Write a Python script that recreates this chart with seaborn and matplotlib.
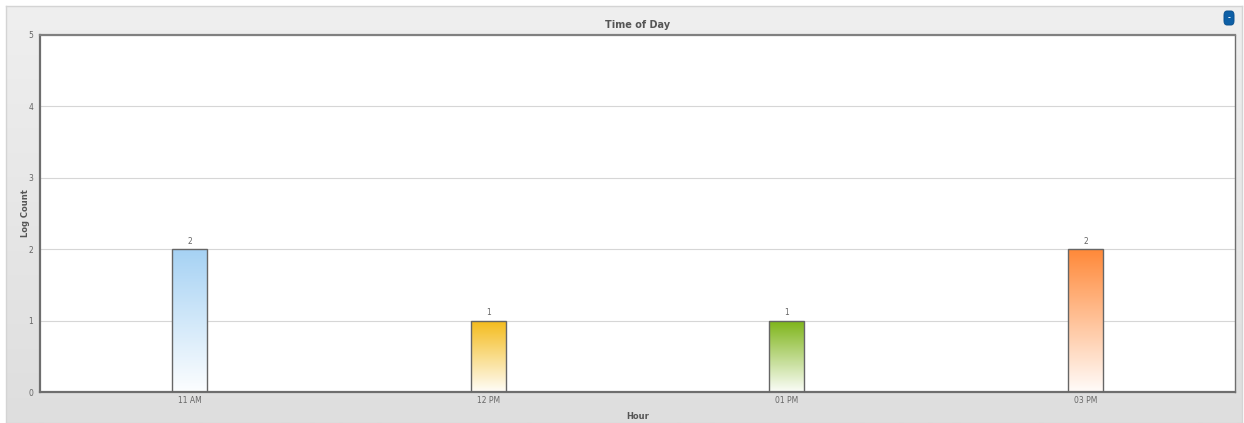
import numpy as np
import pandas as pd
import matplotlib
matplotlib.use("Agg")
import matplotlib.pyplot as plt
from matplotlib.colors import LinearSegmentedColormap
from matplotlib.patches import FancyBboxPatch
import seaborn as sns

hours = ["11 AM", "12 PM", "01 PM", "03 PM"]
log_counts = [2, 1, 1, 2]
top_colors = ["#a6d2f4", "#f4bb1a", "#7db417", "#ff8939"]

sns.set_theme(style="white")
plt.rcParams["font.family"] = ["DejaVu Sans"]

fig = plt.figure(figsize=(12.44, 4.23), dpi=100)
fig.patch.set_facecolor("white")

# panel background with a soft vertical gradient
bg = fig.add_axes([6 / 1244, 0, 1236 / 1244, 417 / 423], zorder=0)
grad = np.linspace(0, 1, 256).reshape(-1, 1)
bg_cmap = LinearSegmentedColormap.from_list("bg", ["#efefef", "#dedede"])
bg.imshow(grad, aspect="auto", cmap=bg_cmap, extent=[0, 1, 0, 1], origin="upper")
bg.set_xlim(0, 1)
bg.set_ylim(0, 1)
bg.set_xticks([])
bg.set_yticks([])
for s in bg.spines.values():
    s.set_color("#d4d4d4")
    s.set_linewidth(1)

ax = fig.add_axes([40 / 1244, 1 - 392 / 423, 1195 / 1244, 357 / 423], zorder=1)
ax.set_facecolor("white")

df = pd.DataFrame({"Hour": hours, "Log Count": log_counts})
sns.barplot(data=df, x="Hour", y="Log Count", ax=ax, width=0.117,
            color="white", edgecolor="#666666", linewidth=1.0, zorder=3)

# vertical gradient fill inside each bar
for patch, col, val in zip(ax.patches, top_colors, log_counts):
    x0, y0 = patch.get_x(), patch.get_y()
    w, h = patch.get_width(), patch.get_height()
    cmap = LinearSegmentedColormap.from_list("g", [col, "#ffffff"])
    im = ax.imshow(np.linspace(0, 0.97, 256).reshape(-1, 1), aspect="auto", cmap=cmap,
                   vmin=0, vmax=1, extent=[x0, x0 + w, y0, y0 + h],
                   origin="upper", zorder=2.5)
    im.set_clip_path(patch)
    patch.set_facecolor("none")
    ax.text(x0 + w / 2, val + 0.045, str(val), ha="center", va="bottom",
            fontsize=5.5, color="#666666")

ax.set_xlim(-0.5, len(hours) - 0.5)
ax.set_ylim(0, 5)
ax.set_yticks(range(0, 6))
ax.yaxis.grid(True, color="#d6d6d6", linewidth=0.8)
ax.set_axisbelow(True)
ax.tick_params(axis="both", labelsize=5.5, colors="#777777", length=0, pad=3)
ax.tick_params(axis="y", length=3, width=0.6, color="#999999", pad=2)
for lbl in ax.get_xticklabels() + ax.get_yticklabels():
    lbl.set_color("#666666")

ax.set_xlabel("Hour", fontsize=6, fontweight="bold", color="#555555", labelpad=5)
ax.set_ylabel("Log Count", fontsize=6, fontweight="bold", color="#555555", labelpad=-1)
ax.set_title("Time of Day", fontsize=7, fontweight="bold", color="#555555", pad=5)

for name, s in ax.spines.items():
    s.set_visible(True)
    s.set_color("#6e6e6e")
ax.spines["left"].set_linewidth(1.6)
ax.spines["bottom"].set_linewidth(1.6)
ax.spines["top"].set_linewidth(1.6)
ax.spines["top"].set_color("#808080")
ax.spines["right"].set_linewidth(1.0)

# small collapse button in the corner
btn_ax = fig.add_axes([1223 / 1244, 1 - 26 / 423, 12 / 1244, 16 / 423], zorder=2)
btn_ax.set_axis_off()
btn_ax.add_patch(FancyBboxPatch((0.08, 0.06), 0.84, 0.88,
                                boxstyle="round,pad=0,rounding_size=0.25",
                                facecolor="#0d5fa6", edgecolor="#0a4f8c",
                                linewidth=0.6, transform=btn_ax.transAxes))
btn_ax.text(0.5, 0.5, "-", color="white", fontsize=5, ha="center", va="center",
            fontweight="bold", transform=btn_ax.transAxes)

fig.savefig("out.png", dpi=100)
